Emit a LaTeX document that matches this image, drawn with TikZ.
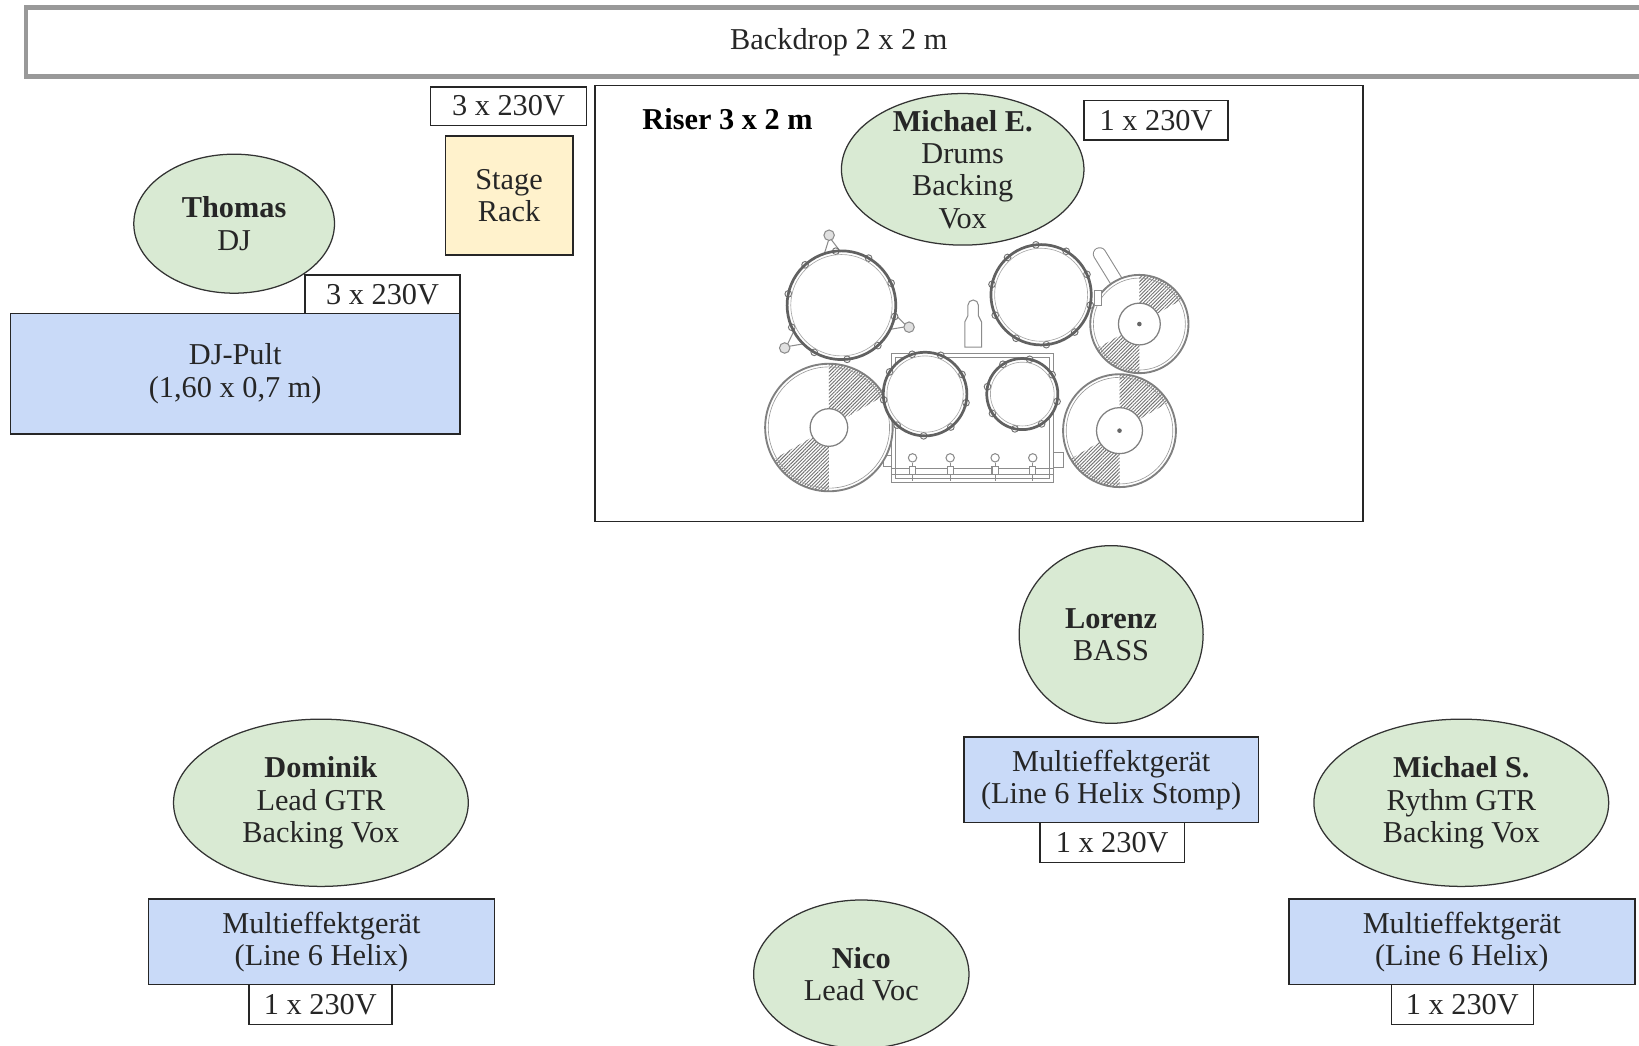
\documentclass[tikz,border=0pt]{standalone}
\usepackage{fontspec}
\setmainfont{Liberation Serif}
\usetikzlibrary{shapes.geometric,patterns.meta}
\definecolor{pgreen}{HTML}{D9EAD3}
\definecolor{pblue}{HTML}{C9DAF8}
\definecolor{pyellow}{HTML}{FFF2CC}
\definecolor{bdgray}{HTML}{999999}
\begin{document}
\begin{tikzpicture}[x=1pt,y=-1pt,
  txt/.style={font=\fontsize{29}{31}\selectfont, text=black!85, align=center, inner sep=0pt},
  box/.style={rectangle, draw=black!85, line width=1.5pt, inner sep=0pt, txt},
  pwr/.style={box, fill=white},
  fxbox/.style={box, fill=pblue},
  person/.style={ellipse, draw=black!80, line width=1.2pt, fill=pgreen, inner sep=0pt},
  rim/.style={draw=black!62, line width=2.6pt},
  kitline/.style={draw=black!45, line width=1pt},
  hatch/.style={pattern={Lines[angle=45,distance=2.4pt,line width=0.9pt]}, pattern color=black!55}
]
\clip (0,0) rectangle (1568,1000);
\fill[white] (0,0) rectangle (1568,1000);

% Backdrop
\node[rectangle, draw=bdgray, line width=4.5pt, minimum width=1555pt, minimum height=66pt, txt] (backdrop) at (802.5,40) {Backdrop 2 x 2 m};

% Stage rack and power
\node[pwr, minimum width=149pt, minimum height=37pt] (pwrack) at (486.5,101.5) {3 x 230V};
\node[box, fill=pyellow, minimum width=122pt, minimum height=114pt] (rack) at (487,187) {Stage\\Rack};

% DJ
\node[person, minimum width=192pt, minimum height=133pt] (thomas) at (224,214) {};
\node[txt] (thomast) at (thomas.center) {\textbf{Thomas}\\DJ};
\node[fxbox, minimum width=430pt, minimum height=115pt] (djpult) at (225,357.5) {DJ-Pult\\(1,60 x 0,7 m)};
\node[pwr, minimum width=148pt, minimum height=37pt] (pwdj) at (366,281.5) {3 x 230V};

% Riser
\node[rectangle, draw=black!85, line width=1.5pt, minimum width=735pt, minimum height=417pt] (riser) at (936.5,290.5) {};
\node[txt, font=\fontsize{29}{31}\selectfont\bfseries, text=black] (risert) at (696,114) {Riser 3 x 2 m};
\node[pwr, minimum width=138pt, minimum height=38pt] (pwdrum) at (1106,115) {1 x 230V};

% ---- drum kit ----
% hi-hat stand spike
\draw[black!45, line width=13pt, line cap=round] (1052,243) -- (1076,282);
\draw[white, line width=11pt, line cap=round] (1052,243) -- (1076,282);
% center post
\draw[kitline, fill=white] (923,332) -- (923,308) -- (926,302) -- (926,292) arc[start angle=180,end angle=360,radius=5] -- (936,302) -- (939,308) -- (939,332) -- cycle;
% bass drum frame
\draw[kitline, fill=white] (853,338) rectangle (1008,462);
\draw[kitline] (857,342) rectangle (1004,458);
\draw[kitline] (853,448) -- (1008,448);
\draw[kitline] (853,454) -- (1008,454);
\foreach \tx in {873,909,952,988} {
  \draw[kitline] (\tx,443) -- (\tx,460);
  \draw[kitline, fill=white] (\tx,438) circle[radius=4];
  \draw[kitline, fill=white] (\tx-3,446) rectangle (\tx+3,454);
}
\draw[kitline, fill=white] (845,436) rectangle (853,446);
\draw[kitline, fill=white] (1008,433) rectangle (1017,447);

% cymbals
\foreach \cx/\cy/\R/\ri in {793/409/61/18, 1071/412/54/22, 1090/310/47/20} {
  \fill[white] (\cx,\cy) circle[radius=\R];
  \fill[hatch] (\cx,\cy) -- ++(-90:\R) arc[start angle=-90,end angle=-30,radius=\R] -- cycle;
  \fill[hatch] (\cx,\cy) -- ++(90:\R) arc[start angle=90,end angle=150,radius=\R] -- cycle;
  \draw[black!50, line width=1.8pt] (\cx,\cy) circle[radius=\R];
  \draw[black!40, line width=0.6pt] (\cx,\cy) circle[radius=\R-3];
  \draw[black!50, line width=1.2pt, fill=white] (\cx,\cy) circle[radius=\ri];
}
\fill[black!60] (1071,412) circle[radius=2.2];
\fill[black!60] (1090,310) circle[radius=2.2];

% tom mounts (brackets with knobs)
\foreach \a in {-100,18,143} {
  \draw[kitline, fill=white] ([shift={(\a-10:50)}]805,292) -- ([shift={(\a:66)}]805,292) -- ([shift={(\a+10:50)}]805,292) -- cycle;
  \draw[kitline, fill=black!12] ([shift={(\a:68)}]805,292) circle[radius=5];
}
\draw[kitline, fill=white] (1047,278) rectangle (1054,292);

% toms
\foreach \cx/\cy/\r/\n in {805/292/52/10, 996/282/48/10, 885/377/40/9, 978/377/34/8} {
  \fill[white] (\cx,\cy) circle[radius=\r];
  \foreach \k in {1,...,\n} {
    \draw[black!55, line width=0.9pt, fill=white] ([shift={(\k*360/\n+12:\r)}]\cx,\cy) circle[radius=3.2];
  }
  \draw[rim] (\cx,\cy) circle[radius=\r];
  \draw[black!35, line width=0.6pt] (\cx,\cy) circle[radius=\r-3.5];
}

% Drummer
\node[person, minimum width=232pt, minimum height=145pt] (michaele) at (921,162) {};
\node[txt] (michaelet) at (michaele.center) {\textbf{Michael E.}\\Drums\\Backing\\Vox};

% Bass
\node[person, minimum width=176pt, minimum height=170pt] (lorenz) at (1063,607) {};
\node[txt] (lorenzt) at (lorenz.center) {\textbf{Lorenz}\\BASS};
\node[fxbox, minimum width=282pt, minimum height=82pt] (stomp) at (1063,746) {Multieffektgerät\\(Line 6 Helix Stomp)};
\node[pwr, minimum width=138pt, minimum height=38pt] (pwbass) at (1064,806) {1 x 230V};

% Lead guitar
\node[person, minimum width=282pt, minimum height=160pt] (dominik) at (307,768) {};
\node[txt] (dominikt) at (dominik.center) {\textbf{Dominik}\\Lead GTR\\Backing Vox};
\node[fxbox, minimum width=331pt, minimum height=82pt] (fxlead) at (307.5,901) {Multieffektgerät\\(Line 6 Helix)};
\node[pwr, minimum width=137pt, minimum height=38pt] (pwlead) at (306.5,961) {1 x 230V};

% Rhythm guitar
\node[person, minimum width=282pt, minimum height=160pt] (michaels) at (1398,768) {};
\node[txt] (michaelst) at (michaels.center) {\textbf{Michael S.}\\Rythm GTR\\Backing Vox};
\node[fxbox, minimum width=331pt, minimum height=82pt] (fxrhythm) at (1398.5,901) {Multieffektgerät\\(Line 6 Helix)};
\node[pwr, minimum width=136pt, minimum height=38pt] (pwrhythm) at (1399,961) {1 x 230V};

% Vocals
\node[person, minimum width=206pt, minimum height=142pt] (nico) at (824,932) {};
\node[txt] (nicot) at (nico.center) {\textbf{Nico}\\Lead Voc};
\end{tikzpicture}
\end{document}
